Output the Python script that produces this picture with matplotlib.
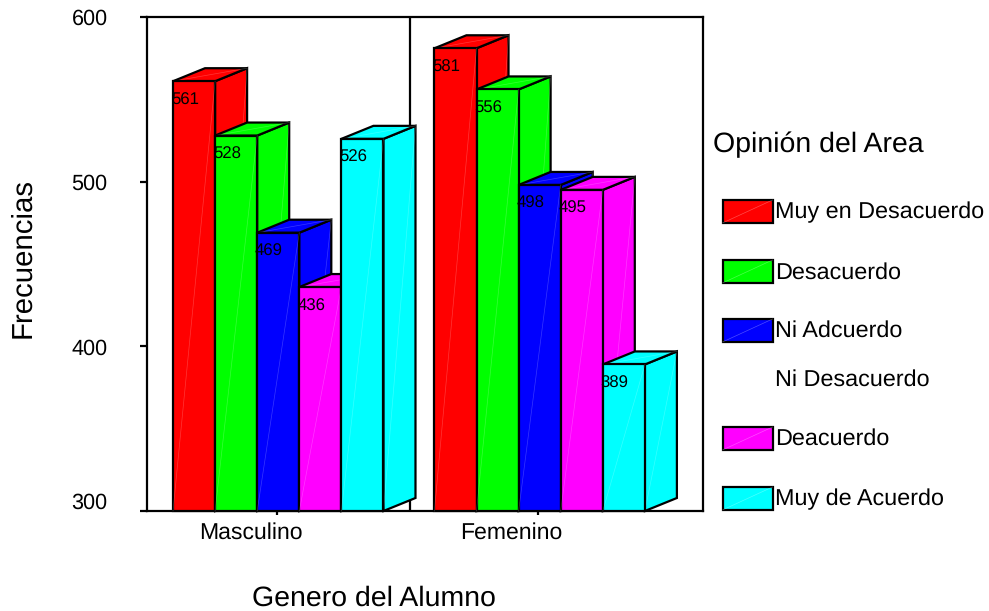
import matplotlib
matplotlib.use("Agg")
import matplotlib.pyplot as plt
from matplotlib.patches import Polygon, Rectangle
from matplotlib.transforms import ScaledTranslation

plt.rcParams["font.family"] = ["Liberation Sans", "DejaVu Sans"]
plt.rcParams["text.hinting"] = "no_hinting"

W, H = 989, 611

genero = ["Masculino", "Femenino"]
masculino = [561, 528, 469, 436, 526]
femenino = [581, 556, 498, 495, 389]
bar_colors = ["#ff0000", "#00ff00", "#0000ff", "#ff00ff", "#00ffff"]
yticks = [300, 400, 500, 600]

legend_title = "Opinión del Area"
legend_labels = ["Muy en Desacuerdo", "Desacuerdo", "Ni Adcuerdo", "Ni Desacuerdo", "Deacuerdo", "Muy de Acuerdo"]
legend_colors = ["#ff0000", "#00ff00", "#0000ff", None, "#ff00ff", "#00ffff"]
legend_box_y = [200, 260, 319, None, 427, 487]
legend_text_y = [211, 272, 330, 379, 438, 498]

DX, DY = 0.76, 7.9  # profundidad del efecto 3D
LW = 1.6


def px(x0, y0, x1, y1):
    return [x0 / W, 1 - y1 / H, (x1 - x0) / W, (y1 - y0) / H]


def bar3d(ax, x, v, color):
    front = [(x, 300), (x + 1, 300), (x + 1, v), (x, v)]
    side = [(x + 1, 300), (x + 1 + DX, 300 + DY), (x + 1 + DX, v + DY), (x + 1, v)]
    top = [(x, v), (x + 1, v), (x + 1 + DX, v + DY), (x + DX, v + DY)]
    for pts in (side, top, front):
        ax.add_patch(Polygon(pts, closed=True, facecolor=color, edgecolor="black",
                             linewidth=LW, joinstyle="miter", zorder=3, clip_on=False))
        # costura diagonal clara de cada cara
        ax.plot([pts[0][0], pts[2][0]], [pts[0][1], pts[2][1]], color="white",
                lw=0.5, alpha=0.22, zorder=3, clip_on=False)


fig = plt.figure(figsize=(W / 100, H / 100), dpi=100)
ax = fig.add_axes(px(146.5, 17, 703, 511))
ax.set_xlim(-0.63, 12.59)
ax.set_ylim(300, 600)

for start, vals in zip([0, 6.21], [masculino, femenino]):
    for i, v in enumerate(vals):
        bar3d(ax, start + i * 1.0, v, bar_colors[i])
    for i, v in enumerate(vals):
        ax.text(start + i - 0.05, v - 11.5, str(v), fontsize=12.1, ha="left", va="center",
                color="black", zorder=5)

ax.axvline(5.63, color="black", lw=LW, zorder=1)

for s in ax.spines.values():
    s.set_linewidth(LW)
ax.set_yticks(yticks)
ax.tick_params(axis="y", length=5, width=LW, labelsize=15.6, pad=23)
ax.set_xticks([2.48, 8.66])
ax.set_xticklabels(genero)
ax.tick_params(axis="x", length=3, width=LW, labelsize=16.6, pad=5)
for lab in ax.get_xticklabels():
    lab.set_transform(lab.get_transform() + ScaledTranslation(-0.265, 0, fig.dpi_scale_trans))
# la etiqueta 300 queda por encima de su marca
lab300 = ax.get_yticklabels()[0]
lab300.set_transform(lab300.get_transform() + ScaledTranslation(0, 0.10, fig.dpi_scale_trans))

fig.text(373.5 / W, 1 - 606 / H, "Genero del Alumno", fontsize=20.5, ha="center", va="baseline")
fig.text(23 / W, 1 - 258 / H, "Frecuencias", fontsize=21.2, rotation=90, ha="center", va="center")

fig.text(713 / W, 1 - 144.5 / H, legend_title, fontsize=20.5, ha="left", va="center")
for lab, c, by, ty in zip(legend_labels, legend_colors, legend_box_y, legend_text_y):
    if c is not None:
        fig.add_artist(Rectangle((722.5 / W, 1 - (by + 23) / H), 50 / W, 23 / H, facecolor=c,
                                 edgecolor="black", linewidth=LW, transform=fig.transFigure))
        fig.add_artist(plt.Line2D([722.5 / W, 772.5 / W], [1 - (by + 23) / H, 1 - by / H], color="white",
                                  lw=0.5, alpha=0.3, transform=fig.transFigure))
    fig.text(775 / W, 1 - (ty + 1) / H, lab, fontsize=16.8, ha="left", va="center")

fig.savefig("out.png", dpi=100)
